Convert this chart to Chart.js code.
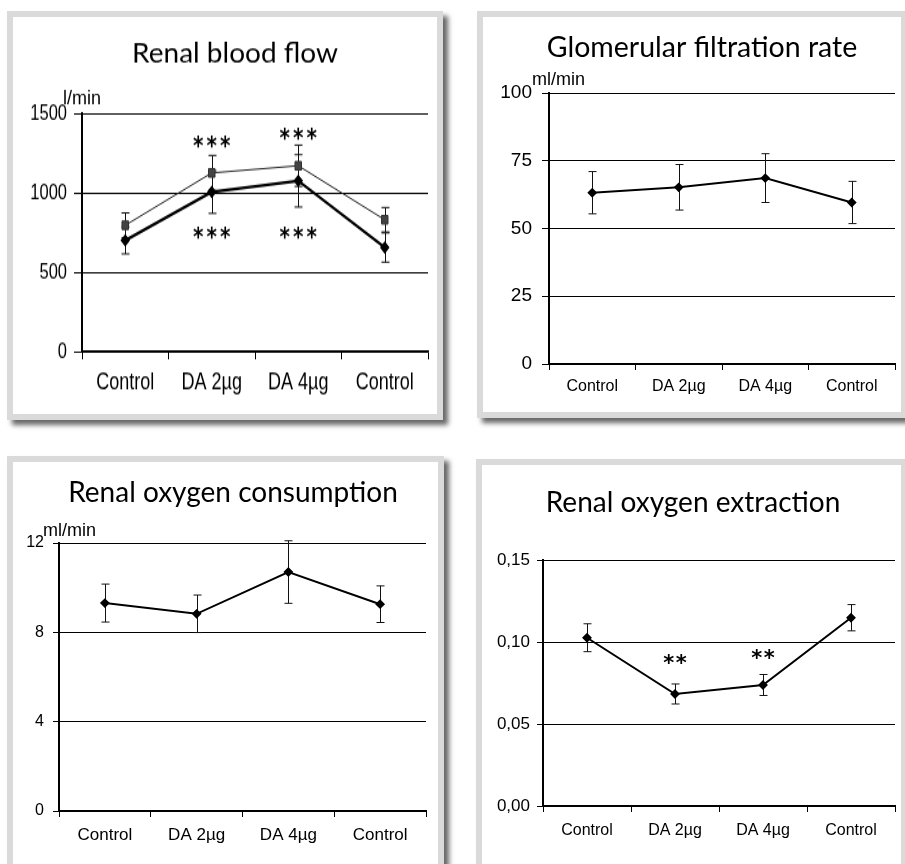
<!DOCTYPE html>
<html>
<head>
<meta charset="utf-8">
<script src="https://cdn.jsdelivr.net/npm/chart.js@4/dist/chart.umd.min.js"></script>
<style>
    body { margin: 0; background: #fff; width: 905px; height: 864px; position: relative; overflow: hidden; }
    .frame { position: absolute; border: 6px solid #dadada; background: #fff; box-shadow: 5px 5px 5px rgba(0,0,0,0.6); }
    .frame canvas { position: absolute; left: 0; top: 0; }
</style>
</head>
<body>
<!-- the blood flow chart is stretched vertically in the original, so its canvas is drawn short and scaled up -->
<div class="frame" style="left:7px;top:11px;width:424px;height:397px"><canvas id="rbfChart" width="424" height="305" style="width:424px;height:397px"></canvas></div>
<div class="frame" style="left:477px;top:11px;width:418px;height:395px"><canvas id="gfrChart" width="418" height="395"></canvas></div>
<div class="frame" style="left:7px;top:456px;width:425px;height:420px"><canvas id="vo2Chart" width="425" height="420"></canvas></div>
<div class="frame" style="left:476px;top:459px;width:419px;height:420px"><canvas id="o2eChart" width="419" height="420"></canvas></div>
<script>
const categories = ['Control', 'DA 2µg', 'DA 4µg', 'Control'];

// Renal blood flow, l/min (two series)
const rbfMeanA = [700, 1005, 1075, 655];
const rbfErrA = [85, 135, 165, 92];
const rbfMeanB = [795, 1125, 1170, 830];
const rbfErrB = [78, 110, 130, 77];
const rbfTicks = ['0', '500', '1000', '1500'];
// significance marks: [category index, value at the mark's centre, number of stars]
const rbfStars = [[1, 1343, 3], [2, 1393, 3], [1, 766, 3], [2, 766, 3]];

// Glomerular filtration rate, ml/min
const gfrMean = [63.2, 65.2, 68.6, 59.6];
const gfrErr = [7.8, 8.4, 9.0, 7.8];
const gfrTicks = ['0', '25', '50', '75', '100'];

// Renal oxygen consumption, ml/min
const vo2Mean = [9.31, 8.83, 10.70, 9.26];
const vo2Err = [0.85, 0.84, 1.40, 0.82];
const vo2Ticks = ['0', '4', '8', '12'];

// Renal oxygen extraction
const o2eMean = [0.1026, 0.0683, 0.0738, 0.1148];
const o2eErr = [0.0085, 0.0061, 0.0064, 0.0080];
const o2eTicks = ['0,00', '0,05', '0,10', '0,15'];
const o2eStars = [[1, 0.0902, 2], [2, 0.0935, 2]];

// error bars, drawn under the lines
const errorBars = {
    id: 'errorBars',
    beforeDatasetsDraw(chart) {
        const ctx = chart.ctx;
        const y = chart.scales.y;
        ctx.save();
        ctx.strokeStyle = '#111';
        ctx.lineWidth = 1;
        chart.data.datasets.forEach((ds, i) => {
            const meta = chart.getDatasetMeta(i);
            ds.data.forEach((v, j) => {
                const x = Math.round(meta.data[j].x) + 0.5;
                const top = y.getPixelForValue(v + ds.errors[j]);
                const bot = y.getPixelForValue(v - ds.errors[j]);
                ctx.beginPath();
                ctx.moveTo(x, top); ctx.lineTo(x, bot);
                ctx.moveTo(x - 4, top); ctx.lineTo(x + 4, top);
                ctx.moveTo(x - 4, bot); ctx.lineTo(x + 4, bot);
                ctx.stroke();
            });
        });
        ctx.restore();
    }
};

// title, unit label and significance stars; k undoes the canvas stretch for the title text
const panelText = {
    id: 'panelText',
    afterDraw(chart, args, opts) {
        const ctx = chart.ctx;
        const k = opts.stretch || 1;
        ctx.save();
        ctx.fillStyle = '#000';
        ctx.textBaseline = 'alphabetic';
        ctx.save();
        ctx.translate(opts.titleX, opts.titleY / k);
        ctx.scale(1, 1 / k);
        ctx.textAlign = 'center';
        ctx.font = opts.titleFont;
        ctx.fillText(opts.title, 0, 0);
        ctx.restore();
        if (opts.unit) {
            ctx.save();
            ctx.translate(opts.unitX, opts.unitY / k);
            ctx.scale(1, 1 / k);
            ctx.textAlign = 'left';
            ctx.font = '18px "Liberation Sans", Arial, sans-serif';
            ctx.fillText(opts.unit, 0, 0);
            ctx.restore();
        }
        if (opts.stars) {
            const meta = chart.getDatasetMeta(0);
            ctx.textAlign = 'center';
            ctx.font = 'bold ' + opts.starSize + 'px "DejaVu Sans", sans-serif';
            opts.stars.forEach(([idx, val, n]) => {
                const cx = meta.data[idx].x;
                const cy = chart.scales.y.getPixelForValue(val) + opts.starSize * 0.59;
                for (let k2 = 0; k2 < n; k2++) {
                    ctx.fillText('*', cx + (k2 - (n - 1) / 2) * opts.starGap, cy);
                }
            });
        }
        ctx.restore();
    }
};

function makePanel(id, datasets, o) {
    new Chart(document.getElementById(id), {
        type: 'line',
        data: { labels: categories, datasets: datasets },
        plugins: [errorBars, panelText],
        options: {
            responsive: false,
            animation: false,
            layout: { padding: { top: o.top, right: o.right, left: 0, bottom: 0 } },
            plugins: {
                legend: { display: false },
                tooltip: { enabled: false },
                panelText: o.text
            },
            scales: {
                x: {
                    offset: true,
                    afterFit: s => { s.height = o.xHeight; },
                    grid: { offset: true, drawOnChartArea: false, drawTicks: true, tickLength: o.xTick, color: '#000', tickColor: '#000' },
                    border: { display: true, color: '#000', width: o.xBorder || 2 },
                    ticks: { color: '#000', font: o.xFont, padding: o.xPad, maxRotation: 0 }
                },
                y: {
                    min: o.min, max: o.max,
                    afterFit: s => { s.width = o.yWidth; },
                    grid: { color: '#000', lineWidth: 1, drawTicks: true, tickLength: o.yTick, tickColor: '#000' },
                    border: { display: true, color: '#000', width: 2 },
                    ticks: {
                        stepSize: o.step, color: '#000', font: o.yFont, padding: o.yPad,
                        callback: (v, i) => o.tickLabels[i]
                    }
                }
            }
        }
    });
}

const lineStyle = { borderColor: '#000', borderWidth: 2, pointStyle: 'rectRot', pointRadius: 3.5,
    pointBackgroundColor: '#000', pointBorderColor: '#000', tension: 0 };

const rbfStretch = 397 / 305;
makePanel('rbfChart', [
    Object.assign({}, lineStyle, { data: rbfMeanA, errors: rbfErrA, borderWidth: 2.3, pointRadius: 3.2 }),
    { data: rbfMeanB, errors: rbfErrB, borderColor: '#222', borderWidth: 1, pointStyle: 'rect', pointRadius: 4.6,
      pointBackgroundColor: '#444', pointBorderColor: '#333', tension: 0 }
], {
    top: 74, right: 9, yWidth: 69, xHeight: 48, min: 0, max: 1500, step: 500, tickLabels: rbfTicks,
    xTick: 6, xPad: 7, yTick: 8, yPad: 7, xBorder: 1.6,
    xFont: { family: '"Liberation Sans", Arial', size: 18 },
    yFont: { family: '"Liberation Sans", Arial', size: 16.5 },
    text: { title: 'Renal blood flow', titleFont: '28px Lato, "Open Sans", sans-serif', titleX: 222, titleY: 45,
            unit: 'l/min', unitX: 50, unitY: 87, stretch: rbfStretch,
            stars: rbfStars, starSize: 20, starGap: 13.5 }
});

makePanel('gfrChart', [
    Object.assign({}, lineStyle, { data: gfrMean, errors: gfrErr })
], {
    top: 76, right: 6, yWidth: 66, xHeight: 48, min: 0, max: 100, step: 25, tickLabels: gfrTicks,
    xTick: 6, xPad: 7, yTick: 7, yPad: 10,
    xFont: { family: '"Liberation Sans", Arial', size: 16 },
    yFont: { family: '"Liberation Sans", Arial', size: 19 },
    text: { title: 'Glomerular filtration rate', titleFont: '28.5px Lato, "Open Sans", sans-serif', titleX: 219, titleY: 40,
            unit: 'ml/min', unitX: 49, unitY: 68 }
});

makePanel('vo2Chart', [
    Object.assign({}, lineStyle, { data: vo2Mean, errors: vo2Err })
], {
    top: 81, right: 12, yWidth: 46, xHeight: 71, min: 0, max: 12, step: 4, tickLabels: vo2Ticks,
    xTick: 6, xPad: 8, yTick: 6, yPad: 9,
    xFont: { family: '"Liberation Sans", Arial', size: 17 },
    yFont: { family: '"Liberation Sans", Arial', size: 16 },
    text: { title: 'Renal oxygen consumption', titleFont: '28px Lato, "Open Sans", sans-serif', titleX: 220, titleY: 40,
            unit: 'ml/min', unitX: 30, unitY: 74 }
});

makePanel('o2eChart', [
    Object.assign({}, lineStyle, { data: o2eMean, errors: o2eErr })
], {
    top: 95, right: 6, yWidth: 61, xHeight: 79, min: 0, max: 0.15, step: 0.05, tickLabels: o2eTicks,
    xTick: 6, xPad: 9, yTick: 6, yPad: 7,
    xFont: { family: '"Liberation Sans", Arial', size: 16 },
    yFont: { family: '"Liberation Sans", Arial', size: 17 },
    text: { title: 'Renal oxygen extraction', titleFont: '28px Lato, "Open Sans", sans-serif', titleX: 211, titleY: 47,
            stars: o2eStars, starSize: 21, starGap: 12.5 }
});
</script>
</body>
</html>
